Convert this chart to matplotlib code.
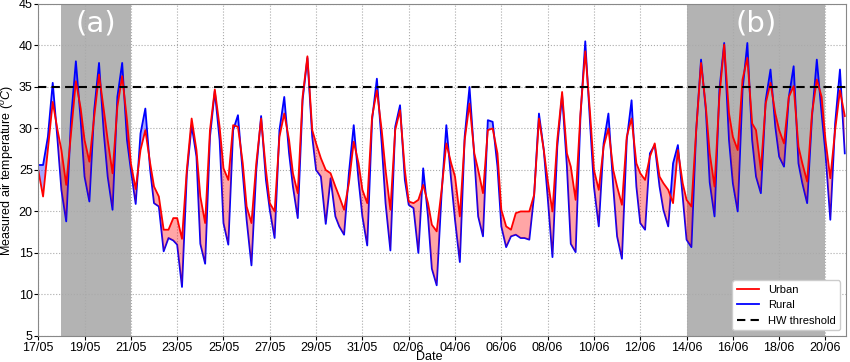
import numpy as np
import pandas as pd
import matplotlib
matplotlib.use('Agg')
from matplotlib import pyplot as plt
import matplotlib.dates as mdates

plt.rcParams['font.family'] = ['Liberation Sans', 'DejaVu Sans']
plt.rcParams['mathtext.fontset'] = 'custom'
plt.rcParams['mathtext.rm'] = 'Liberation Sans'
plt.rcParams['mathtext.it'] = 'Liberation Sans:italic'

# readings at 0h, 5h, 10h, 15h, 20h of each day, from 17/05 to 20/06
start = pd.Timestamp('2019-05-17')
hours = [0, 5, 10, 15, 20]

urban = [
    25.0, 21.8, 27.5, 33.2, 29.8,  # 17/05
    27.4, 23.2, 29.5, 35.7, 32.4,
    28.6, 26.0, 31.4, 36.5, 32.2,
    28.6, 24.6, 32.6, 36.3, 31.0,
    25.8, 22.7, 27.4, 29.8, 25.8,
    23.0, 21.8, 17.8, 17.8, 19.2,  # 22/05
    19.2, 16.7, 25.0, 31.2, 27.4,
    21.8, 18.6, 29.8, 34.7, 30.2,
    25.2, 23.8, 30.4, 30.2, 25.8,
    20.6, 18.6, 25.8, 31.2, 25.0,
    21.0, 20.0, 29.0, 31.8, 28.6,  # 27/05
    24.6, 22.2, 33.8, 38.7, 29.8,
    28.2, 26.4, 25.0, 24.6, 23.0,
    21.8, 20.2, 23.4, 28.4, 25.8,
    22.6, 21.0, 31.4, 34.6, 29.8,
    25.0, 20.2, 29.8, 32.2, 25.0,  # 01/06
    21.2, 21.0, 21.4, 23.2, 21.0,
    18.4, 17.6, 22.5, 28.2, 25.8,
    24.2, 19.4, 28.6, 33.0, 27.0,
    25.0, 22.2, 29.8, 30.0, 27.0,
    20.2, 18.2, 17.8, 19.8, 20.0,  # 06/06
    20.0, 20.0, 22.0, 31.2, 27.4,
    23.8, 20.0, 28.6, 34.4, 27.0,
    25.4, 21.4, 31.8, 39.3, 31.8,
    25.0, 22.6, 27.8, 30.0, 25.0,
    23.0, 20.8, 29.0, 31.2, 25.8,  # 11/06
    24.6, 23.8, 26.6, 28.2, 24.2,
    23.4, 22.6, 21.0, 27.4, 23.4,
    21.4, 20.6, 29.8, 37.9, 32.6,
    27.0, 23.0, 33.8, 40.1, 31.8,
    29.0, 27.4, 35.9, 38.5, 30.6,  # 16/06
    29.8, 25.0, 33.0, 35.5, 31.8,
    29.8, 28.2, 33.8, 35.1, 27.8,
    25.8, 23.6, 31.8, 35.9, 33.8,
    28.6, 24.0, 29.8, 34.6, 31.5,  # 20/06
]

rural = [
    25.6, 25.6, 29.0, 35.5, 28.6,  # 17/05
    22.6, 18.8, 31.2, 38.1, 31.0,
    24.2, 21.2, 32.2, 37.9, 29.4,
    24.2, 20.2, 33.8, 37.9, 28.6,
    25.0, 20.9, 29.4, 32.4, 25.0,
    21.0, 20.6, 15.2, 16.8, 16.5,  # 22/05
    16.0, 10.9, 24.5, 30.4, 26.6,
    16.1, 13.7, 29.0, 34.5, 28.6,
    18.6, 16.0, 29.8, 31.6, 24.6,
    19.0, 13.5, 25.0, 31.5, 23.8,
    20.2, 16.8, 29.8, 33.8, 27.0,  # 27/05
    23.0, 19.2, 33.4, 38.5, 29.0,
    25.0, 24.2, 18.5, 24.0, 19.4,
    18.2, 17.2, 24.6, 30.4, 23.8,
    19.4, 15.9, 31.0, 36.0, 28.2,
    21.0, 15.3, 30.2, 32.8, 23.8,  # 01/06
    20.8, 20.4, 15.0, 25.2, 19.4,
    13.1, 11.1, 22.0, 30.4, 23.8,
    19.0, 13.9, 29.0, 35.0, 26.6,
    19.4, 17.0, 31.0, 30.8, 25.4,
    18.2, 15.7, 17.0, 17.2, 16.8,  # 06/06
    16.8, 16.6, 22.0, 31.8, 27.4,
    21.8, 14.5, 27.8, 34.0, 25.4,
    16.1, 15.1, 31.4, 40.5, 30.6,
    23.0, 18.2, 28.2, 31.8, 23.0,
    17.0, 14.3, 28.6, 33.4, 23.0,  # 11/06
    18.6, 17.8, 27.0, 28.0, 23.0,
    20.2, 18.2, 25.8, 28.0, 21.8,
    16.6, 15.7, 29.8, 38.3, 32.2,
    23.5, 19.4, 34.6, 40.3, 28.6,
    23.4, 20.0, 34.6, 40.3, 28.6,  # 16/06
    24.2, 22.2, 33.4, 37.1, 30.2,
    26.6, 25.4, 33.8, 37.5, 25.8,
    23.4, 21.0, 31.4, 38.3, 31.8,
    27.0, 19.0, 30.6, 37.1, 27.0,  # 20/06
]

hw_threshold = 35
periods = [('2019-05-18', '2019-05-21', '(a)'), ('2019-06-14', '2019-06-20', '(b)')]

n_days = len(urban) // len(hours)
times = [start + pd.Timedelta(days=d, hours=h) for d in range(n_days) for h in hours]
urban = np.array(urban)
rural = np.array(rural)

fig = plt.figure(figsize=(8.5, 3.62), dpi=100)
ax = fig.add_axes([0.045, 0.072, 0.95, 0.917])

# periodos de ola de calor
for p0, p1, name in periods:
    t0, t1 = pd.Timestamp(p0), pd.Timestamp(p1)
    ax.axvspan(t0, t1, color='#9a9a9a', alpha=0.75, lw=0, zorder=0.5)
    ax.text(t0 + (t1 - t0) / 2, 42.7, name, color='white', fontsize=21,
            ha='center', va='center', family='DejaVu Sans')

ax.plot(times, rural, color='blue', lw=1.3, zorder=2)
ax.fill_between(times, urban, rural, where=urban >= rural, interpolate=True,
                color='red', alpha=0.35, lw=0, zorder=2)
ax.fill_between(times, urban, rural, where=urban < rural, interpolate=True,
                color='blue', alpha=0.35, lw=0, zorder=2)
l_urban, = ax.plot(times, urban, color='red', lw=1.3, zorder=2.1)
l_rural, = ax.plot([], [], color='blue', lw=1.3)
l_hw = ax.axhline(hw_threshold, color='black', ls='--', lw=1.5, dashes=(4, 2.5), zorder=3)

ax.set_xlim(start, pd.Timestamp('2019-06-20 21:00'))
ax.set_ylim(5, 45)
ax.set_yticks(np.arange(5, 46, 5))
ax.xaxis.set_major_locator(mdates.DayLocator(interval=2))
ax.xaxis.set_major_formatter(mdates.DateFormatter('%d/%m'))
ax.tick_params(labelsize=9, length=3, pad=1.5)
ax.tick_params(axis='y', pad=1)
for s in ax.spines.values():
    s.set_color('#888888')
ax.grid(True, ls=':', color='#aaaaaa', lw=0.8, zorder=1)

ax.set_xlabel('Date', fontsize=9)
ax.xaxis.set_label_coords(0.484, -0.045)
ax.set_ylabel(r'Measured air temperature ($^oC$)', fontsize=9)
ax.yaxis.set_label_coords(-0.027, 0.5)

ax.legend([l_urban, l_rural, l_hw], ['Urban', 'Rural', 'HW threshold'],
          loc='lower right', fontsize=8, framealpha=1, fancybox=True)

fig.savefig('out.png', dpi=100)
